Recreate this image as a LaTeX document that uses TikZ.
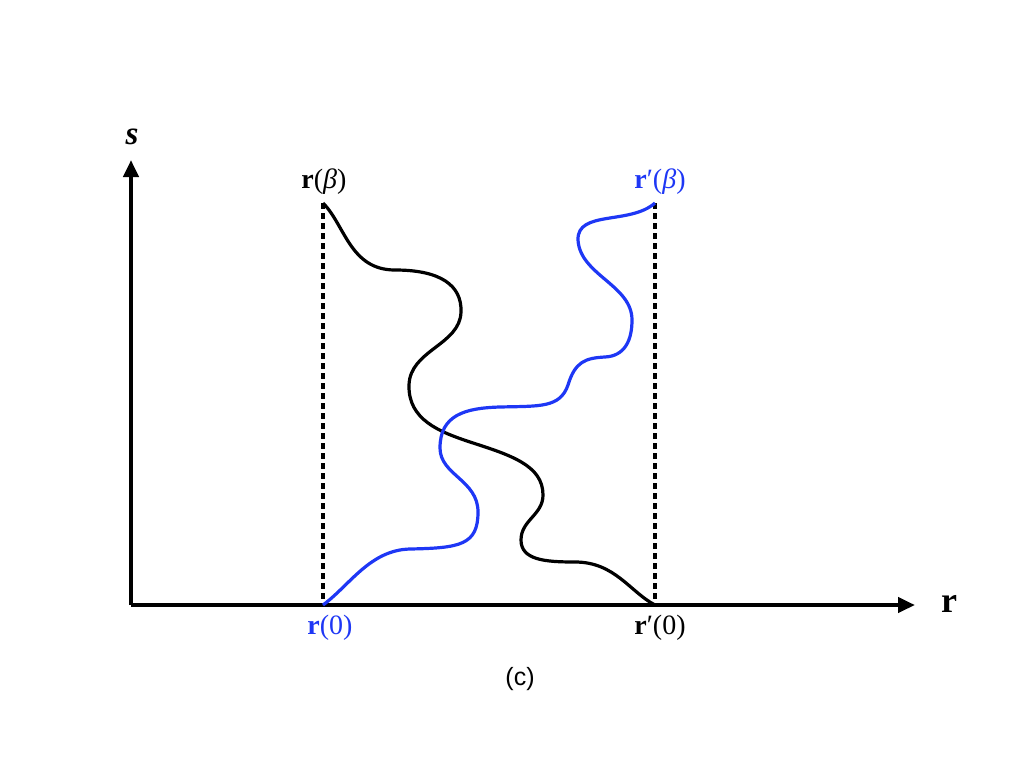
\documentclass[tikz,border=0pt]{standalone}
\usepackage{fontspec}
\setmainfont{Liberation Serif}
\newfontfamily\labsans{Liberation Sans}
\usetikzlibrary{arrows.meta}
\definecolor{pathblue}{RGB}{30,55,245}
\tikzset{
  axis/.style={line width=4.2pt,-{Triangle[length=17pt,width=15pt]}},
  guide/.style={line width=3.2pt,dash pattern=on 6pt off 4pt},
  pathcurve/.style={line width=3.2pt},
  lab/.style={font=\fontsize{28}{30}\selectfont,inner sep=0pt},
}
\begin{document}
\begin{tikzpicture}[x=1pt,y=-1pt]
\useasboundingbox (0,0) rectangle (1024,768);
\coordinate (O) at (131,605);
\coordinate (ytip) at (131,160);
\coordinate (xtip) at (915,605);
\coordinate (a0) at (323,605);
\coordinate (ab) at (323,203);
\coordinate (b0) at (655,605);
\coordinate (bb) at (655,203);
% guides
\draw[guide] (ab) -- (a0);
\draw[guide] (bb) -- (b0);
% axes
\draw[axis] (O) -- (ytip);
\draw[axis] (O) -- (xtip);
% black path
\draw[pathcurve] (ab) .. controls (345,225) and (350,270) .. (395,270)
  .. controls (440,270) and (462,285) .. (461,312)
  .. controls (460,345) and (410,350) .. (409,385)
  .. controls (408,420) and (440,432) .. (470,442)
  .. controls (510,455) and (543,465) .. (543,495)
  .. controls (543,515) and (521,520) .. (521,540)
  .. controls (521,560) and (545,562) .. (575,562)
  .. controls (615,562) and (630,592) .. (b0);
% blue path
\draw[pathcurve,pathblue] (a0) .. controls (350,585) and (370,550) .. (410,549)
  .. controls (460,548) and (478,545) .. (478,512)
  .. controls (478,480) and (440,475) .. (440,448)
  .. controls (440,415) and (465,408) .. (500,407)
  .. controls (540,406) and (560,408) .. (568,385)
  .. controls (575,362) and (585,358) .. (605,357)
  .. controls (625,356) and (632,340) .. (632,320)
  .. controls (632,285) and (580,275) .. (578,240)
  .. controls (577,210) and (630,225) .. (bb);
% labels
\node[lab] (lab) at (324,182) {\textbf{r}(\textit{β})};
\node[lab,text=pathblue] (lbb) at (660,182) {\textbf{r}′(\textit{β})};
\node[lab,text=pathblue] (la0) at (330,628) {\textbf{r}(0)};
\node[lab] (lb0) at (660,628) {\textbf{r}′(0)};
\node[inner sep=0pt,font=\fontsize{36}{40}\selectfont\bfseries] (lr) at (949,604) {r};
\node[inner sep=0pt,font=\fontsize{33}{36}\selectfont\bfseries\itshape] (ls) at (132,137) {s};
\node[inner sep=0pt,font=\labsans\fontsize{25}{28}\selectfont] (lc) at (520,679) {(c)};
\end{tikzpicture}
\end{document}
